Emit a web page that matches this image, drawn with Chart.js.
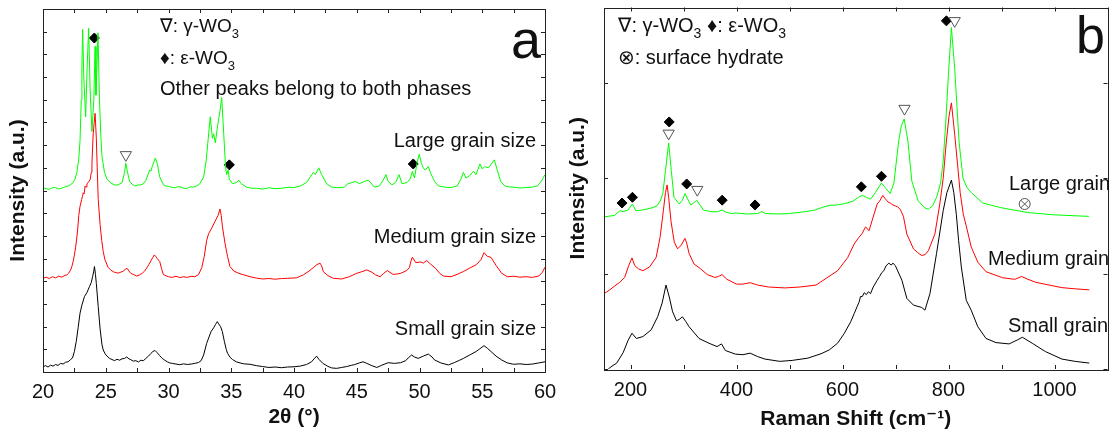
<!DOCTYPE html>
<html>
<head>
<meta charset="utf-8">
<script src="https://cdn.jsdelivr.net/npm/chart.js@4.4.1/dist/chart.umd.min.js"></script>
<style>
  html, body { margin: 0; padding: 0; background: #fff; overflow: hidden; }
  #wrap { position: relative; width: 1115px; height: 442px; overflow: hidden; }
  #xrd { position: absolute; left: 0; top: 0; }
  #raman { position: absolute; left: 557px; top: 0; }
</style>
</head>
<body>
<div id="wrap">
  <canvas id="xrd" width="557" height="442"></canvas>
  <canvas id="raman" width="558" height="442"></canvas>
</div>
<script>
// ─── DATA: panel a, XRD (2θ in degrees, offset intensity in tick units) ─────────
const xrdLarge = [
  [20,8.12],[20.25,8.08],[20.5,8.05],[20.75,8.12],[21,8.13],[21.25,8.07],[21.5,8.1],[21.75,8.16],[22,8.2],[22.2,8.26],
  [22.4,8.35],[22.55,8.5],[22.7,8.8],[22.85,9.4],[22.95,10.2],[23.05,12.0],[23.1,13.5],[23.16,15.1],[23.25,13.0],
  [23.4,11.25],[23.52,13.5],[23.64,15.15],[23.75,12.5],[23.9,10.6],[24.05,12.0],[24.15,14.35],[24.22,12.2],
  [24.3,13.5],[24.38,14.95],[24.5,12.0],[24.6,10.5],[24.7,9.5],[24.9,8.8],[25.1,8.5],[25.3,8.38],[25.5,8.3],[25.75,8.24],
  [26.0,8.25],[26.3,8.35],[26.5,8.8],[26.6,9.2],[26.7,8.9],[26.9,8.4],[27.1,8.28],[27.3,8.2],[27.55,8.24],[27.8,8.25],
  [28.0,8.3],[28.2,8.45],[28.5,8.9],[28.6,8.85],[28.7,9.05],[28.95,9.43],[29.1,9.2],[29.3,8.6],[29.6,8.25],[29.8,8.2],
  [30,8.18],[30.25,8.14],[30.5,8.12],[30.75,8.17],[31,8.15],[31.25,8.09],[31.5,8.1],[31.75,8.16],[32,8.15],[32.25,8.2],
  [32.5,8.3],[32.8,8.6],[33.0,9.3],[33.2,10.5],[33.33,11.25],[33.5,10.3],[33.6,10.5],[33.73,10.1],[33.9,10.8],[34.1,11.5],
  [34.24,12.1],[34.4,10.5],[34.55,9.0],[34.64,8.7],[34.75,8.9],[34.85,8.5],[35.1,8.3],[35.4,8.35],[35.6,8.45],[35.8,8.3],
  [36.2,8.15],[36.6,8.1],[37,8.1],[37.5,8.06],[38,8.12],[38.5,8.08],[39,8.1],[39.5,8.14],[40,8.13],[40.5,8.2],[41,8.35],
  [41.3,8.6],[41.54,8.8],[41.7,8.7],[41.97,9.0],[42.2,8.7],[42.6,8.3],[43,8.15],[43.5,8.12],[44,8.15],[44.3,8.3],
  [44.6,8.35],[44.9,8.4],[45.2,8.3],[45.6,8.4],[45.9,8.45],[46.1,8.35],[46.4,8.15],[46.8,8.2],[47.1,8.45],[47.33,8.7],
  [47.5,8.4],[47.8,8.25],[48.1,8.35],[48.37,8.7],[48.6,8.3],[49.0,8.35],[49.25,8.5],[49.43,8.84],[49.6,8.55],[49.8,9.2],
  [49.98,9.6],[50.15,9.2],[50.3,9.0],[50.45,8.9],[50.7,9.05],[50.9,8.75],[51.2,8.4],[51.5,8.2],[52,8.15],[52.5,8.13],
  [53,8.2],[53.3,8.5],[53.5,8.8],[53.7,8.55],[54,8.65],[54.3,8.85],[54.5,8.7],[54.82,9.17],[55.0,8.95],[55.2,9.05],
  [55.5,9.0],[55.7,9.15],[55.96,9.35],[56.2,8.9],[56.47,8.4],[56.8,8.2],[57.1,8.16],[57.5,8.15],[58,8.11],[58.5,8.13],
  [59,8.15],[59.4,8.2],[59.7,8.4],[60,8.7]
];
const xrdMedium = [
  [20,4.13],[20.25,4.18],[20.5,4.12],[20.75,4.2],[21,4.15],[21.25,4.22],[21.5,4.18],[21.75,4.26],[21.9,4.28],[22.05,4.36],
  [22.2,4.5],[22.3,4.65],[22.4,4.87],[22.5,5.15],[22.6,5.5],[22.7,5.95],[22.76,6.26],[22.85,6.9],[22.95,7.3],[23.08,7.6],
  [23.15,7.75],[23.2,7.9],[23.28,7.85],[23.35,8.2],[23.45,8.15],[23.5,8.3],[23.6,8.35],[23.75,8.47],[23.85,8.8],[23.9,9.2],
  [24.0,10.5],[24.08,11.0],[24.15,11.4],[24.25,10.3],[24.32,9.0],[24.4,7.6],[24.55,6.5],[24.68,5.8],[24.8,5.3],[24.94,4.94],
  [25.2,4.6],[25.4,4.5],[25.6,4.42],[25.8,4.38],[26.0,4.36],[26.2,4.4],[26.4,4.45],[26.55,4.52],[26.7,4.57],[26.85,4.45],
  [27.0,4.35],[27.2,4.3],[27.47,4.23],[27.7,4.28],[27.9,4.35],[28.1,4.45],[28.26,4.58],[28.45,4.75],[28.6,4.9],[28.75,5.05],
  [28.87,5.16],[29.0,5.08],[29.1,5.0],[29.3,4.87],[29.45,4.55],[29.59,4.3],[29.8,4.24],[30,4.2],[30.3,4.17],[30.6,4.22],
  [30.9,4.16],[31.2,4.2],[31.5,4.17],[31.8,4.22],[32.1,4.2],[32.4,4.3],[32.65,4.6],[32.85,5.1],[33.04,5.8],[33.2,6.1],
  [33.44,6.34],[33.7,6.63],[33.95,6.9],[34.1,7.18],[34.2,6.9],[34.3,6.4],[34.5,5.68],[34.7,5.1],[34.9,4.65],[35.2,4.45],
  [35.6,4.35],[36.0,4.28],[36.5,4.2],[37.0,4.14],[37.5,4.1],[38.0,4.12],[38.5,4.09],[39.0,4.12],[39.5,4.13],[40.2,4.15],
  [40.74,4.28],[41.2,4.45],[41.54,4.6],[41.8,4.72],[42.07,4.8],[42.2,4.68],[42.34,4.42],[42.7,4.25],[43.13,4.13],[43.8,4.1],
  [44.4,4.2],[45,4.35],[45.4,4.42],[45.8,4.5],[46.2,4.4],[46.5,4.28],[46.86,4.2],[47.15,4.35],[47.44,4.47],[47.9,4.3],
  [48.2,4.32],[48.5,4.35],[48.98,4.47],[49.2,4.6],[49.3,4.85],[49.43,5.06],[49.7,4.82],[50.1,4.85],[50.3,4.8],[50.57,4.91],
  [50.9,4.75],[51.3,4.56],[51.6,4.35],[51.9,4.23],[52.5,4.2],[53.0,4.3],[53.5,4.43],[54.0,4.58],[54.5,4.72],[54.9,4.95],
  [55.14,5.26],[55.4,5.1],[55.7,5.05],[56.1,4.7],[56.55,4.35],[57,4.2],[57.5,4.22],[58,4.18],[58.5,4.2],[59,4.17],
  [59.5,4.23],[59.8,4.4],[60,4.62]
];
const xrdSmall = [
  [20,0.23],[20.2,0.28],[20.4,0.22],[20.6,0.3],[20.8,0.26],[21.0,0.33],[21.2,0.29],[21.4,0.38],[21.6,0.35],[21.8,0.43],
  [22.0,0.45],[22.2,0.55],[22.35,0.62],[22.5,0.9],[22.65,1.35],[22.8,1.95],[22.95,2.59],[23.1,2.95],[23.3,3.32],[23.5,3.5],
  [23.7,3.76],[23.85,3.95],[23.95,4.2],[24.05,4.45],[24.1,4.65],[24.18,4.3],[24.25,3.9],[24.4,2.88],[24.55,1.9],[24.7,1.2],
  [24.8,0.97],[24.95,0.8],[25.1,0.7],[25.3,0.6],[25.5,0.55],[25.7,0.5],[25.9,0.56],[26.1,0.52],[26.3,0.58],[26.5,0.6],
  [26.67,0.66],[26.85,0.58],[27.0,0.54],[27.2,0.48],[27.4,0.5],[27.6,0.44],[27.8,0.52],[28.0,0.5],[28.2,0.6],[28.4,0.7],
  [28.6,0.82],[28.75,0.9],[28.92,0.95],[29.1,0.85],[29.3,0.72],[29.5,0.6],[29.7,0.52],[29.9,0.45],[30.1,0.4],[30.3,0.38],
  [30.6,0.35],[30.9,0.32],[31.2,0.36],[31.5,0.33],[31.8,0.35],[32.1,0.38],[32.4,0.42],[32.6,0.5],[32.8,0.75],[33.04,1.26],
  [33.2,1.5],[33.39,1.78],[33.6,1.95],[33.75,2.1],[33.89,2.22],[34.0,2.12],[34.15,2.0],[34.29,1.78],[34.45,1.35],[34.6,1.0],
  [34.71,0.82],[34.9,0.65],[35.1,0.55],[35.4,0.45],[35.7,0.4],[36.0,0.36],[36.5,0.34],[37.0,0.28],[37.5,0.24],[38.0,0.2],
  [38.5,0.22],[39.0,0.19],[39.5,0.22],[40.0,0.23],[40.5,0.26],[41.0,0.33],[41.4,0.45],[41.6,0.58],[41.8,0.7],[42.0,0.55],
  [42.3,0.38],[42.7,0.25],[43.0,0.18],[43.4,0.16],[43.8,0.2],[44.2,0.24],[44.6,0.3],[44.8,0.32],[45.2,0.4],[45.5,0.45],
  [45.8,0.38],[46.2,0.28],[46.6,0.2],[47.0,0.3],[47.5,0.41],[48.0,0.38],[48.5,0.41],[48.9,0.5],[49.1,0.62],[49.37,0.75],
  [49.6,0.66],[49.9,0.6],[50.3,0.7],[50.7,0.79],[51.0,0.66],[51.2,0.53],[51.7,0.4],[52.3,0.31],[52.8,0.42],[53.2,0.52],
  [53.5,0.6],[54.0,0.75],[54.5,0.9],[54.8,1.02],[55.14,1.16],[55.4,1.05],[55.7,0.9],[56.1,0.7],[56.55,0.53],[57.0,0.4],
  [57.5,0.34],[58.0,0.36],[58.5,0.33],[59.0,0.35],[59.5,0.4],[60,0.45]
];
const xrdGammaMarks = [[26.6,9.57]];
const xrdEpsMarks = [[24.09,14.72],[34.85,9.13],[49.5,9.17]];

// ─── DATA: panel b, Raman (shift in cm-1, offset intensity in tick units) ───────
const ramanLarge = [
  [150,1.595],[170,1.61],[180,1.66],[186,1.65],[195,1.665],[203.6,1.73],[210,1.66],[220,1.665],[230,1.675],[240,1.69],
  [250,1.71],[256,1.76],[261,1.84],[266,2.08],[272,2.37],[277,2.08],[282,1.8],[292,1.73],[298,1.77],[303,1.84],[308,1.78],
  [313.8,1.72],[319,1.74],[325,1.77],[331,1.72],[338,1.665],[355,1.647],[365,1.65],[372.8,1.668],[380,1.645],[390,1.63],
  [400,1.635],[420,1.625],[440,1.63],[447.5,1.65],[455,1.63],[480,1.625],[500,1.63],[530,1.65],[547,1.665],[565,1.7],
  [575,1.715],[590,1.72],[605,1.735],[620,1.76],[630,1.8],[637.4,1.82],[645,1.8],[652.9,1.78],[662,1.85],[673.5,1.95],
  [682,1.89],[690,1.84],[697,1.95],[706,2.39],[711,2.55],[716.4,2.62],[723.4,2.39],[730.8,1.97],[743,1.76],[755,1.69],
  [762,1.675],[770,1.71],[777.6,1.8],[785,1.95],[790,2.18],[795,2.6],[800,3.1],[805.5,3.58],[811.7,3.15],[816,2.75],
  [819.8,2.39],[827.3,2.0],[835,1.9],[842.8,1.85],[864.7,1.74],[900,1.69],[950,1.64],[1000,1.616],[1065,1.6]
];
const ramanMedium = [
  [150,0.79],[161,0.83],[170,0.87],[180,0.91],[189,0.96],[196.7,1.085],[202.8,1.165],[207.9,1.085],[215,1.05],[223.4,1.03],
  [236,1.07],[248.4,1.17],[255.8,1.38],[262,1.66],[266,1.85],[269,1.93],[272,1.8],[276.4,1.55],[282.6,1.33],[288.8,1.26],
  [296,1.3],[302.6,1.37],[306,1.32],[310.6,1.21],[320,1.1],[332.4,1.05],[344.8,0.99],[359,0.96],[366,0.97],[372.8,0.99],
  [382,0.94],[400,0.89],[412,0.89],[425.8,0.905],[440,0.88],[460,0.86],[491,0.85],[520,0.86],[550,0.88],[569,0.95],
  [590.7,1.03],[610,1.17],[622,1.31],[631,1.38],[637,1.42],[643.5,1.49],[650,1.45],[665.4,1.73],[670,1.76],[676,1.82],
  [680,1.79],[683,1.77],[686,1.75],[690.2,1.74],[695,1.72],[699.6,1.71],[704,1.7],[708.9,1.675],[715,1.6],[721.4,1.415],
  [733.9,1.26],[742,1.22],[749.4,1.19],[756,1.2],[762,1.24],[774.3,1.415],[783.6,1.73],[790,2.0],[796,2.39],[801,2.65],
  [805.5,2.79],[811.7,2.46],[817,2.15],[822,1.85],[828,1.62],[833.5,1.5],[842.8,1.28],[855.3,1.12],[870.8,1.02],
  [901.9,0.957],[925,0.94],[938,0.97],[950,0.94],[964,0.91],[990,0.88],[1014,0.853],[1040,0.84],[1065.6,0.83]
];
const ramanSmall = [
  [158,0],[165,0.03],[173.7,0.06],[186,0.17],[195.4,0.3],[202.8,0.375],[211,0.32],[223.4,0.34],[239,0.41],[251.4,0.55],
  [259.6,0.69],[267,0.88],[273.2,0.755],[279.4,0.6],[286.9,0.506],[292,0.52],[298.1,0.547],[304,0.5],[310.6,0.443],
  [329.3,0.32],[348,0.27],[363.4,0.235],[371.7,0.263],[379,0.194],[397.8,0.156],[412,0.15],[425.8,0.166],[440,0.13],
  [453.8,0.104],[481.8,0.08],[505,0.09],[534.7,0.114],[559.5,0.16],[575,0.2],[590.7,0.27],[603,0.37],[615.5,0.495],
  [622,0.58],[628,0.66],[631.2,0.7],[634,0.76],[637.4,0.76],[641,0.8],[645,0.78],[649,0.81],[652.9,0.79],[658,0.86],
  [665.4,0.93],[670,0.97],[674,1.01],[677.9,1.03],[682,1.08],[687.3,1.11],[692,1.09],[695,1.11],[699.6,1.085],[712.1,0.93],
  [721.4,0.74],[733.9,0.67],[749.4,0.645],[755.6,0.617],[765,0.79],[777.4,1.21],[790,1.66],[797,1.85],[805.5,1.98],
  [810,1.85],[814.8,1.62],[819,1.35],[824.2,1.07],[833.5,0.72],[842.8,0.617],[855.3,0.443],[870.8,0.32],[889.5,0.277],
  [914.3,0.263],[930,0.305],[939.3,0.333],[958,0.27],[982.8,0.183],[1014,0.104],[1039,0.08],[1065.6,0.062]
];
const ramanGammaMarks = [[272,2.47],[326,1.88],[717,2.73],[811.7,3.65]];
const ramanEpsMarks = [[184,1.74],[203.6,1.8],[273,2.59],[306,1.94],[373,1.77],[435,1.72],[635.5,1.91],[673.5,2.02],[796,3.65]];
const ramanHydrateMarks = [[943.7,1.73]];

const FONT = "'Liberation Sans', Arial, 'DejaVu Sans', sans-serif";
const INK = '#111';

function trace(pairs, color) {
  return {
    data: pairs.map(([x, y]) => ({ x, y })),
    borderColor: color, borderWidth: 1, pointRadius: 0, tension: 0, fill: false
  };
}

function marks(pairs, style) {
  return Object.assign({
    data: pairs.map(([x, y]) => ({ x, y })),
    showLine: false, clip: false, borderWidth: 1
  }, style);
}
const gammaStyle = { pointStyle: 'triangle', rotation: 180, pointRadius: 6.5, pointBackgroundColor: '#fff', pointBorderColor: '#555' };
const epsStyle = { pointStyle: 'rectRot', pointRadius: 5, pointBackgroundColor: '#000', pointBorderColor: '#000' };

// inward tick marks on all four sides plus the frame
const frameTicks = {
  id: 'frameTicks',
  afterDatasetsDraw(chart) {
    const { ctx, chartArea: a, scales: { x, y } } = chart;
    const len = 4;
    ctx.save();
    ctx.strokeStyle = '#222';
    ctx.lineWidth = 1;
    ctx.beginPath();
    x.ticks.forEach(t => {
      const px = Math.round(x.getPixelForValue(t.value)) + 0.5;
      ctx.moveTo(px, a.bottom); ctx.lineTo(px, a.bottom - len);
      ctx.moveTo(px, a.top); ctx.lineTo(px, a.top + len);
    });
    y.ticks.forEach(t => {
      const py = Math.round(y.getPixelForValue(t.value)) + 0.5;
      ctx.moveTo(a.left, py); ctx.lineTo(a.left + len, py);
      ctx.moveTo(a.right, py); ctx.lineTo(a.right - len, py);
    });
    ctx.stroke();
    ctx.strokeRect(Math.round(a.left) + 0.5, Math.round(a.top) + 0.5, Math.round(a.width), Math.round(a.height));
    ctx.restore();
  }
};

// free text with subscript runs
const panelText = {
  id: 'panelText',
  afterDraw(chart, args, opts) {
    const ctx = chart.ctx;
    ctx.save();
    ctx.fillStyle = INK;
    ctx.textBaseline = 'alphabetic';
    (opts.items || []).forEach(item => {
      const runs = item.runs.map(r => typeof r === 'string' ? { t: r } : r);
      const size = item.size || 20;
      let w = 0;
      runs.forEach(r => {
        ctx.font = `${r.sub ? Math.round(size * 0.7) : size}px ${FONT}`;
        r.w = ctx.measureText(r.t).width;
        w += r.w;
      });
      let x = item.align === 'right' ? item.x - w : item.x;
      runs.forEach(r => {
        ctx.font = `${r.sub ? Math.round(size * 0.7) : size}px ${FONT}`;
        ctx.fillText(r.t, x, item.y + (r.sub ? size * 0.3 : 0));
        x += r.w;
      });
    });
    ctx.restore();
  }
};

function axes(c) {
  return {
    x: {
      type: 'linear', min: c.xMin, max: c.xMax,
      grid: { display: false, drawTicks: false }, border: { display: false },
      ticks: {
        stepSize: c.xStep, autoSkip: false, maxRotation: 0, minRotation: 0, includeBounds: false,
        padding: c.xPad, color: INK, font: { size: 20, family: FONT },
        callback: v => (Math.abs(v % c.xEvery) < 1e-6 ? String(v) : '')
      },
      title: {
        display: true, text: c.xTitle, color: INK,
        font: { size: 21, weight: 'bold', family: FONT }, padding: { top: 0, bottom: c.xTitlePad }
      },
      // fixed axis height; no extra side margins for the end labels
      afterFit: s => { s.height = c.xH; s.paddingLeft = 0; s.paddingRight = 0; }
    },
    y: {
      min: 0, max: c.yMax,
      grid: { display: false, drawTicks: false }, border: { display: false },
      ticks: { display: false, stepSize: 1, includeBounds: false, maxTicksLimit: 100 },
      title: {
        display: true, text: 'Intensity (a.u.)', color: INK,
        font: { size: 21, weight: 'bold', family: FONT }, padding: { top: c.yTitlePad, bottom: 0 }
      },
      afterFit: s => { s.width = c.yW; }
    }
  };
}

const base = {
  responsive: false, animation: false, devicePixelRatio: 1,
  events: [],
  plugins: { legend: { display: false }, tooltip: { enabled: false } }
};

new Chart(document.getElementById('xrd'), {
  type: 'line',
  data: {
    datasets: [
      trace(xrdSmall, '#000000'),
      trace(xrdMedium, '#ff0000'),
      trace(xrdLarge, '#00ff00'),
      marks(xrdGammaMarks, gammaStyle),
      marks(xrdEpsMarks, epsStyle)
    ]
  },
  options: Object.assign({}, base, {
    layout: { padding: { top: 9, right: 12, left: 0, bottom: 0 } },
    scales: axes({ xMin: 20, xMax: 60, xStep: 2.5, xEvery: 5, xPad: 8, xTitle: '2θ (°)', xTitlePad: 12, xH: 70, yMax: 16, yW: 43, yTitlePad: 6 }),
    plugins: Object.assign({}, base.plugins, {
      panelText: {
        items: [
          { x: 160, y: 32, size: 19, runs: ['∇: γ-WO', { t: '3', sub: true }] },
          { x: 160, y: 64, size: 19, runs: ['♦: ε-WO', { t: '3', sub: true }] },
          { x: 160, y: 95, size: 20, runs: ['Other peaks belong to both phases'] },
          { x: 511, y: 58, size: 54, runs: ['a'] },
          { x: 536, y: 147, align: 'right', runs: ['Large grain size'] },
          { x: 536, y: 243, align: 'right', runs: ['Medium grain size'] },
          { x: 536, y: 335, align: 'right', runs: ['Small grain size'] }
        ]
      }
    })
  }),
  plugins: [frameTicks, panelText]
});

new Chart(document.getElementById('raman'), {
  type: 'line',
  data: {
    datasets: [
      trace(ramanSmall, '#000000'),
      trace(ramanMedium, '#ff0000'),
      trace(ramanLarge, '#00ff00'),
      marks(ramanGammaMarks, gammaStyle),
      marks(ramanEpsMarks, epsStyle),
      marks(ramanHydrateMarks, { pointStyle: 'circle', pointRadius: 5.5, pointBackgroundColor: 'rgba(0,0,0,0)', pointBorderColor: '#555' }),
      marks(ramanHydrateMarks, { pointStyle: 'crossRot', pointRadius: 5.5, pointBorderColor: '#555' })
    ]
  },
  options: Object.assign({}, base, {
    layout: { padding: { top: 5, right: 2, left: 0, bottom: 0 } },
    scales: axes({ xMin: 150, xMax: 1100, xStep: 100, xEvery: 200, xPad: 9, xTitle: 'Raman Shift (cm⁻¹)', xTitlePad: 10, xH: 73, yMax: 3.79, yW: 47, yTitlePad: 9 }),
    plugins: Object.assign({}, base.plugins, {
      panelText: {
        items: [
          { x: 61, y: 32, size: 20, runs: ['∇: γ-WO', { t: '3', sub: true }, ' ♦: ε-WO', { t: '3', sub: true }] },
          { x: 61, y: 64, size: 20, runs: ['⊗: surface hydrate'] },
          { x: 519, y: 53, size: 52, runs: ['b'] },
          { x: 452, y: 190, runs: ['Large grain'] },
          { x: 431, y: 265, runs: ['Medium grain'] },
          { x: 451, y: 332, runs: ['Small grain'] }
        ]
      }
    })
  }),
  plugins: [frameTicks, panelText]
});
</script>
</body>
</html>
